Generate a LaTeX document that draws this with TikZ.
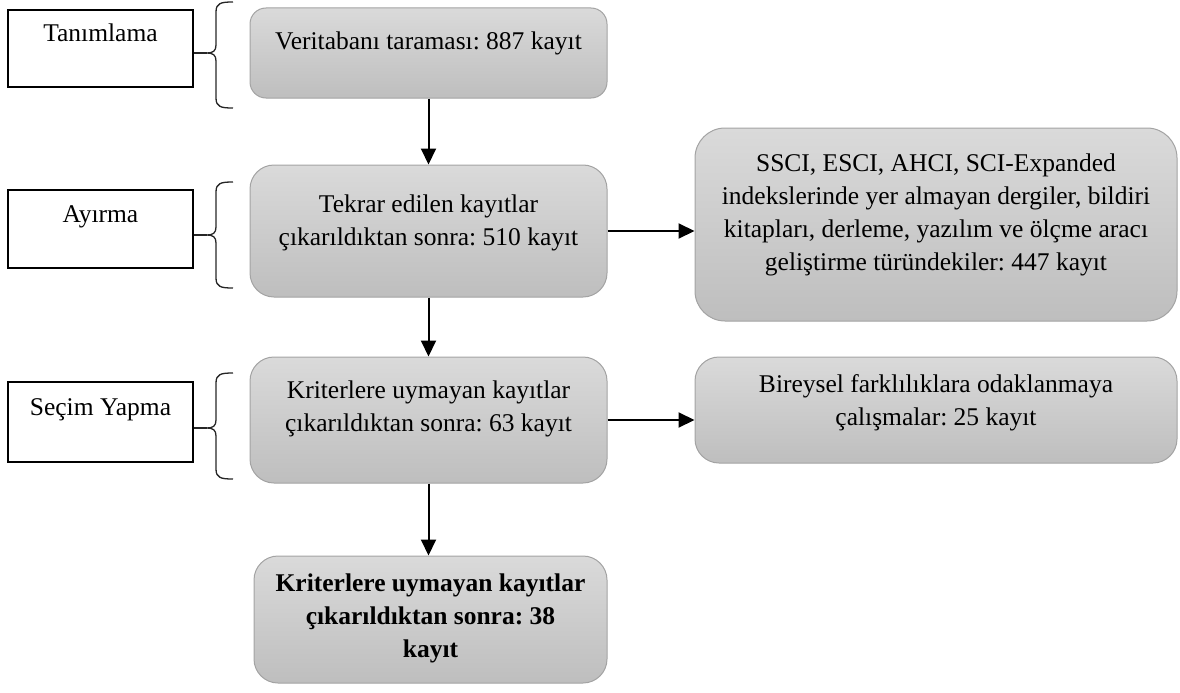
\documentclass[tikz,border=0pt]{standalone}
\usepackage{fontspec}
\setmainfont{Liberation Serif}
\frenchspacing
\usetikzlibrary{arrows.meta}
\definecolor{gtop}{HTML}{DADADA}
\definecolor{gbot}{HTML}{BEBEBE}
\definecolor{gborder}{HTML}{A3A3A3}
\tikzset{
  lbox/.style={draw=black, line width=1.3pt, fill=white, rectangle, inner sep=0pt},
  gbox/.style={draw=gborder, line width=1pt, rectangle, rounded corners=#1, inner sep=0pt, top color=gtop, bottom color=gbot},
  txt/.style={align=center, inner sep=0pt, font=\fontsize{25.5pt}{33pt}\selectfont},
  arr/.style={line width=2pt, -{Triangle[width=15pt,length=16pt]}},
  brc/.style={line width=1.3pt, draw=black!85},
}
\begin{document}
\begin{tikzpicture}[x=1pt,y=-1pt]
\useasboundingbox (0,0) rectangle (1180,693);
% left boxes
\node[lbox, minimum width=185pt, minimum height=77pt] (L1) at (100.5,48.5) {};
\node[lbox, minimum width=185pt, minimum height=78pt] (L2) at (100.5,229) {};
\node[lbox, minimum width=185pt, minimum height=80pt] (L3) at (100.5,422) {};
\node[txt] (t1) at (100.5,33) {Tanımlama};
\node[txt] (t2) at (100.5,217) {Ayırma};
\node[txt] (t3) at (100.5,410) {Seçim Yapma};
% gray boxes
\node[gbox=16pt, minimum width=357pt, minimum height=90pt] (G1) at (428.5,53) {};
\node[gbox=24pt, minimum width=357pt, minimum height=132pt] (G2) at (428.5,231) {};
\node[gbox=24pt, minimum width=357pt, minimum height=126pt] (G3) at (428.5,420) {};
\node[gbox=24pt, minimum width=353pt, minimum height=127pt] (G4) at (430.5,619.5) {};
\node[gbox=30pt, minimum width=482pt, minimum height=193pt] (R1) at (936,224.5) {};
\node[gbox=24pt, minimum width=482pt, minimum height=106pt] (R2) at (936,410) {};
\node[txt] (g1) at (428.5,43) {Veritabanı taraması: 887 kayıt};
\node[txt] (g2) at (428.5,223) {Tekrar edilen kayıtlar\\çıkarıldıktan sonra: 510 kayıt};
\node[txt] (g3) at (428.5,409) {Kriterlere uymayan kayıtlar\\çıkarıldıktan sonra: 63 kayıt};
\node[txt, font=\fontsize{25.5pt}{33pt}\selectfont\bfseries] (g4) at (430.5,618) {Kriterlere uymayan kayıtlar\\çıkarıldıktan sonra: 38\\kayıt};
\node[txt] (r1) at (936,215) {SSCI, ESCI, AHCI, SCI-Expanded\\indekslerinde yer almayan dergiler, bildiri\\kitapları, derleme, yazılım ve ölçme aracı\\geliştirme türündekiler: 447 kayıt};
\node[txt] (r2) at (936,403) {Bireysel farklılıklara odaklanmaya\\çalışmalar: 25 kayıt};
% arrows
\draw[arr] (G1.south) -- (G2.north);
\draw[arr] (G2.south) -- (G3.north);
\draw[arr] (G3.south) -- (G3.south |- G4.north);
\draw[arr] (G2.east) -- (G2.east -| R1.west);
\draw[arr] (G3.east) -- (G3.east -| R2.west);
% braces
\coordinate (b1) at (207,53);
\coordinate (b2) at (207,235);
\coordinate (b3) at (207,428);
\draw[brc] (233,2) .. controls (221,2) and (216,3) .. (216,12) -- (216,45) .. controls (216,51) and (213,53) .. (b1) .. controls (213,53) and (216,55) .. (216,61) -- (216,98) .. controls (216,107) and (221,108) .. (233,108);
\draw[brc] (233,182) .. controls (221,182) and (216,183) .. (216,192) -- (216,227) .. controls (216,233) and (213,235) .. (b2) .. controls (213,235) and (216,237) .. (216,243) -- (216,278) .. controls (216,287) and (221,288) .. (233,288);
\draw[brc] (233,373) .. controls (221,373) and (216,374) .. (216,383) -- (216,420) .. controls (216,426) and (213,428) .. (b3) .. controls (213,428) and (216,430) .. (216,436) -- (216,469) .. controls (216,478) and (221,479) .. (233,479);
\draw[brc] (L1.east |- b1) -- (b1);
\draw[brc] (L2.east |- b2) -- (b2);
\draw[brc] (L3.east |- b3) -- (b3);
\end{tikzpicture}
\end{document}
